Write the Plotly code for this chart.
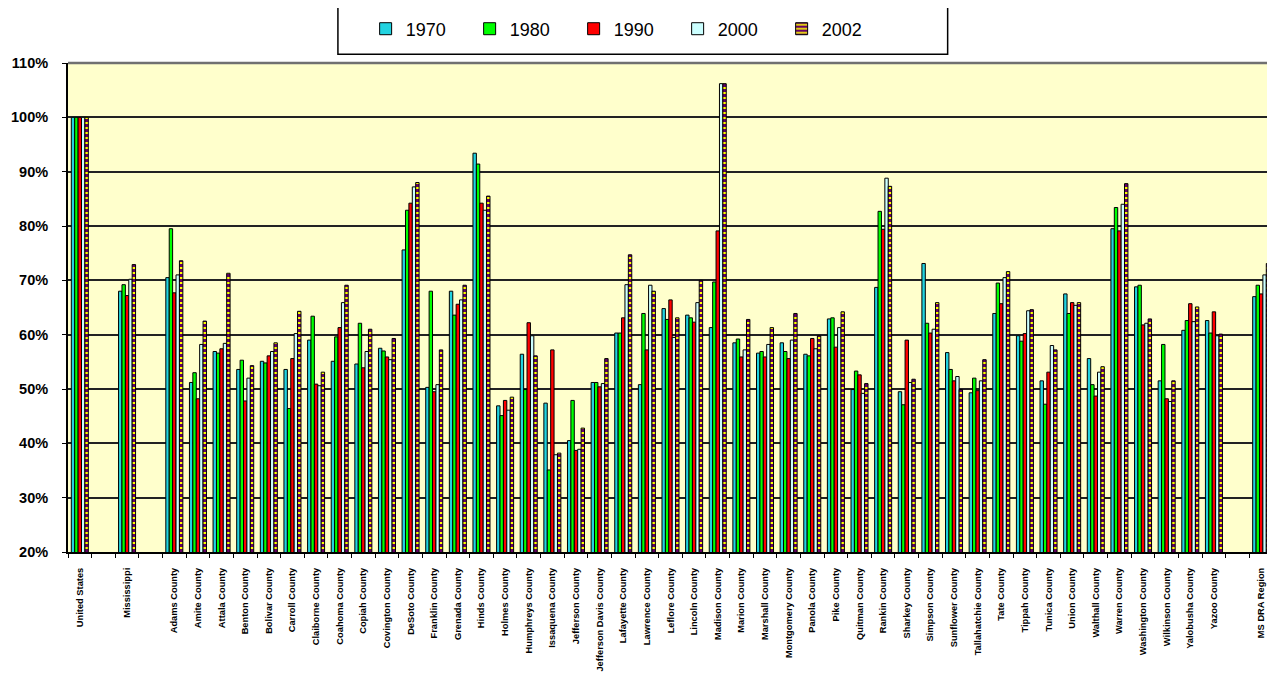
import plotly.graph_objects as go

counties = ["Adams County", "Amite County", "Attala County", "Benton County", "Bolivar County",
            "Carroll County", "Claiborne County", "Coahoma County", "Copiah County", "Covington County",
            "DeSoto County", "Franklin County", "Grenada County", "Hinds County", "Holmes County",
            "Humphreys County", "Issaquena County", "Jefferson County", "Jefferson Davis County",
            "Lafayette County", "Lawrence County", "Leflore County", "Lincoln County", "Madison County",
            "Marion County", "Marshall County", "Montgomery County", "Panola County", "Pike County",
            "Quitman County", "Rankin County", "Sharkey County", "Simpson County", "Sunflower County",
            "Tallahatchie County", "Tate County", "Tippah County", "Tunica County", "Union County",
            "Walthall County", "Warren County", "Washington County", "Wilkinson County",
            "Yalobusha County", "Yazoo County"]

# blank spacer categories keep the gaps seen in the original sheet
categories = ["United States", " ", "Mississippi", "  "] + counties + ["   ", "MS DRA Region"]

# percent of US value (US = 100)
us = [100, 100, 100, 100, 100]
ms = [68.0, 69.2, 67.2, 70.2, 72.9]
dra = [67.0, 69.1, 67.5, 71.0, 73.1]

c1970 = [70.5, 51.2, 56.9, 53.6, 55.1, 53.6, 59.0, 55.1, 54.6, 57.5, 75.6, 50.3, 68.0, 93.4, 46.9,
         56.4, 47.4, 40.5, 51.2, 60.3, 50.8, 64.8, 63.6, 61.3, 58.5, 56.6, 58.5, 56.4, 62.9, 49.9,
         68.7, 49.5, 73.1, 56.7, 49.3, 63.9, 59.8, 51.5, 67.5, 55.6, 79.5, 68.8, 51.5, 60.8, 62.6]
c1980 = [79.5, 53.0, 56.6, 55.3, 54.8, 46.4, 63.4, 59.6, 62.1, 57.0, 82.9, 68.0, 63.6, 91.4, 45.1,
         49.9, 35.1, 47.9, 51.2, 60.3, 63.9, 62.8, 63.1, 69.7, 59.2, 56.9, 56.9, 56.1, 63.1, 53.3,
         82.7, 47.1, 62.1, 53.6, 52.0, 69.5, 58.8, 47.2, 63.9, 50.8, 83.4, 69.1, 58.2, 62.6, 60.3]
c1990 = [67.7, 48.2, 57.4, 47.8, 56.1, 55.6, 50.9, 61.3, 53.9, 55.9, 84.2, 49.5, 65.6, 84.2, 47.9,
         62.2, 57.2, 38.7, 50.4, 63.1, 57.2, 66.4, 62.3, 79.1, 55.9, 55.9, 55.6, 59.3, 57.7, 52.6,
         79.4, 59.0, 60.3, 51.5, 49.7, 65.7, 60.2, 53.1, 65.9, 48.7, 79.1, 61.8, 48.2, 65.7, 64.2]
c2000 = [71.0, 58.2, 58.4, 52.0, 56.9, 60.2, 50.6, 65.9, 56.9, 55.4, 87.2, 50.8, 66.4, 82.9, 46.1,
         59.8, 37.9, 38.9, 51.0, 69.2, 69.1, 59.5, 65.9, 106.2, 57.2, 58.2, 59.0, 57.4, 61.3, 49.2,
         88.8, 51.2, 61.0, 52.3, 51.5, 70.5, 64.4, 58.0, 65.4, 53.1, 84.0, 62.1, 47.7, 62.4, 59.8]
c2002 = [73.6, 62.5, 71.3, 54.3, 58.5, 64.3, 53.1, 69.1, 61.0, 59.3, 88.0, 57.2, 69.1, 85.5, 48.5,
         56.1, 38.2, 42.8, 55.6, 74.7, 68.0, 63.1, 70.0, 106.2, 62.8, 61.3, 63.9, 59.8, 64.2, 51.0,
         87.3, 51.8, 65.9, 49.9, 55.4, 71.6, 64.6, 57.2, 65.9, 54.1, 87.8, 62.9, 51.5, 65.1, 60.1]

years = ["1970", "1980", "1990", "2000", "2002"]
county_cols = [c1970, c1980, c1990, c2000, c2002]
colors = ["#22D3E0", "#00FF00", "#FF0000", "#CCFFFF", "#FFFF00"]


def series(i):
    return [us[i], None, ms[i], None] + county_cols[i] + [None, dra[i]]


fig = go.Figure()
for i, yr in enumerate(years):
    marker = dict(color=colors[i], line=dict(color="black", width=1))
    if yr == "2002":
        marker["pattern"] = dict(shape="-", fgcolor="#660066", bgcolor="#FFFF00",
                                 size=5, solidity=0.6, fillmode="replace")
    fig.add_trace(go.Bar(x=categories, y=series(i), name=yr, marker=marker))

# page body has an 8px margin, so the figure is a bit smaller than the window
fig.update_layout(
    width=1267, height=669,
    barmode="group", bargap=0.28, bargroupgap=0,
    plot_bgcolor="#FFFFCC", paper_bgcolor="white",
    margin=dict(l=60, r=2, t=55, b=125),
    font=dict(family="Liberation Sans, Arial", color="black"),
    legend=dict(orientation="h", x=0.247, xanchor="left", y=1.0695, yanchor="middle",
                borderwidth=0, bgcolor="rgba(0,0,0,0)", font=dict(size=18),
                entrywidth=59, itemwidth=30),
    showlegend=True,
)
fig.update_yaxes(range=[20, 110], dtick=10, ticksuffix="%", showgrid=True,
                 gridcolor="#222222", gridwidth=1.5, showline=True, linecolor="black",
                 linewidth=2, ticks="outside", ticklen=4, tickcolor="black",
                 ticklabelstandoff=11,
                 tickfont=dict(size=14.5, weight="bold"), zeroline=False)
fig.update_xaxes(type="category", tickangle=-90, tickson="boundaries", ticks="outside",
                 ticklen=4, tickcolor="black", showline=True, linecolor="black", linewidth=2,
                 ticklabelstandoff=10,
                 tickfont=dict(size=9.3, weight="bold"), showgrid=False)
# gray top border of the plot area
fig.add_shape(type="line", xref="paper", yref="paper", x0=0, x1=1, y0=1, y1=1,
              line=dict(color="#707070", width=2.5))
# legend frame
fig.add_shape(type="rect", xref="paper", yref="paper", x0=0.224, x1=0.730, y0=1.018, y1=1.121,
              line=dict(color="black", width=1.5), fillcolor="white", layer="below")

fig.write_html("out.html")
